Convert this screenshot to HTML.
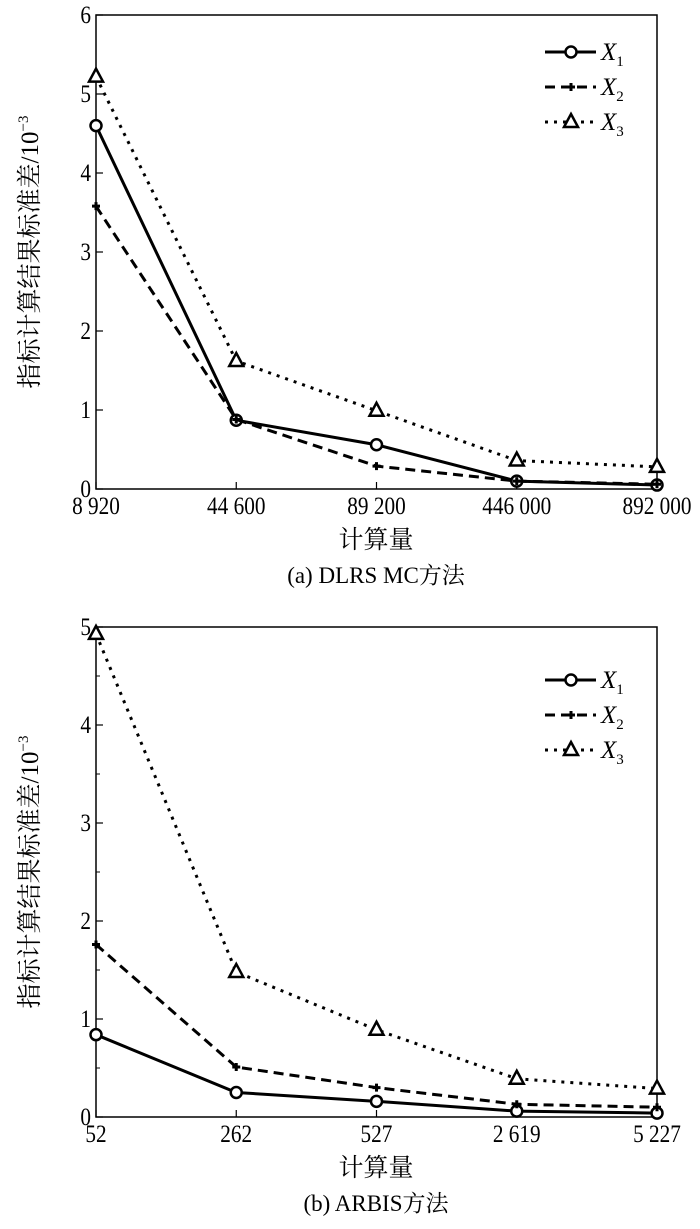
<!DOCTYPE html>
<html><head><meta charset="utf-8">
<style>
body{margin:0;background:#fff;width:700px;height:1229px;overflow:hidden}
svg{display:block}
text{font-family:"Liberation Serif","Noto Serif CJK SC",serif;fill:#000}
</style></head>
<body>
<svg id="svg" width="700" height="1229"></svg>
<script>
const categoriesA = ["8 920","44 600","89 200","446 000","892 000"];
const x1A = [4.6, 0.87, 0.56, 0.1, 0.05];
const x2A = [3.58, 0.88, 0.29, 0.1, 0.06];
const x3A = [5.22, 1.62, 0.99, 0.36, 0.28];
const yTicksA = [0,1,2,3,4,5,6];

const categoriesB = ["52","262","527","2 619","5 227"];
const x1B = [0.84, 0.25, 0.16, 0.06, 0.04];
const x2B = [1.76, 0.51, 0.30, 0.13, 0.10];
const x3B = [4.93, 1.48, 0.89, 0.39, 0.29];
const yTicksB = [0,1,2,3,4,5];
const minorTicksB = [0.5,1.5,2.5,3.5,4.5];

const NS = "http://www.w3.org/2000/svg";
const svg = document.getElementById('svg');
function el(tag, attrs, parent, txt){
  const e = document.createElementNS(NS, tag);
  for (const k in attrs) e.setAttribute(k, attrs[k]);
  if (txt !== undefined) e.textContent = txt;
  (parent||svg).appendChild(e);
  return e;
}

function drawChart(cfg){
  const g = el('g', {});
  
  
  const L=96, R=657, T=cfg.top, B=cfg.bottom;
  const n = cfg.cats.length;
  const xs = i => L + (R-L)*i/(n-1);
  const ys = v => B - (B-T)*v/cfg.ymax;
  const frame = el('rect', {x:L,y:T,width:R-L,height:B-T,fill:'none',stroke:'#000','stroke-width':1.5}, g);
  
  
  cfg.yticks.forEach(v=>{
    el('line',{x1:L,x2:L+7,y1:ys(v),y2:ys(v),stroke:'#000','stroke-width':1.2},g);
    const t = el('text',{x:L-5,y:ys(v)+8,'text-anchor':'end','font-size':25,transform:`translate(${L-5},0) scale(0.85,1) translate(${-(L-5)},0)`},g,String(v));
    
    
  });
  (cfg.minor||[]).forEach(v=>{
    el('line',{x1:L,x2:L+4,y1:ys(v),y2:ys(v),stroke:'#000','stroke-width':1},g);
  });
  cfg.cats.forEach((c,i)=>{
    el('line',{x1:xs(i),x2:xs(i),y1:B,y2:B-7,stroke:'#000','stroke-width':1.2},g);
    const t = el('text',{x:xs(i),y:B+25,'text-anchor':'middle','font-size':25,transform:`translate(${xs(i)},0) scale(0.85,1) translate(${-xs(i)},0)`},g,c);
    
    
  });
  const xt = el('text',{x:376,y:B+59,'text-anchor':'middle','font-size':25},g,'计算量');
  
  
  const cap = el('text',{x:376,y:B+94,'text-anchor':'middle','font-size':23},g,cfg.caption);
  
  
  const cy = (T+B)/2;
  const yt = el('text',{x:0,y:0,'text-anchor':'middle','font-size':25,transform:`translate(38,${cy}) rotate(-90)`},g);
  
  
  yt.appendChild(document.createTextNode('指标计算结果标准差/10'));
  el('tspan',{'font-size':15,dy:-10},yt,'−3');

  const series = [
    {d:cfg.s1, dash:'none', m:'circle', name:'series-x1'},
    {d:cfg.s2, dash:'10,6', m:'plus', name:'series-x2'},
    {d:cfg.s3, dash:'3,6', m:'tri', name:'series-x3'}
  ];
  function marker(type,x,y,parent){
    let m;
    if(type==='circle') m = el('circle',{cx:x,cy:y,r:5.5,fill:'#fff',stroke:'#000','stroke-width':2.5},parent);
    else if(type==='plus'){ m = el('path',{d:`M${x-4},${y}L${x+4},${y}M${x},${y-4}L${x},${y+4}`,stroke:'#000','stroke-width':3},parent); }
    else m = el('path',{d:`M${x},${y-8}L${x+7},${y+5}L${x-7},${y+5}Z`,fill:'#fff',stroke:'#000','stroke-width':2.5},parent);
    
    
  }
  series.forEach(s=>{
    const pts = s.d.map((v,i)=>xs(i)+','+ys(v)).join(' ');
    const pl = el('polyline',{points:pts,fill:'none',stroke:'#000','stroke-width':3,'stroke-dasharray':s.dash},g);
    
    
    s.d.forEach((v,i)=>marker(s.m,xs(i),ys(v),g));
  });
  const lg = el('g',{},g);
  
  
  series.forEach((s,k)=>{
    const y = cfg.legY + k*35;
    const ln = el('line',{x1:545,x2:596,y1:y,y2:y,stroke:'#000','stroke-width':3,'stroke-dasharray':s.dash},lg);
    
    
    marker(s.m,571,y,lg);
    const t = el('text',{x:601,y:y+8,'font-size':25,'font-style':'italic'},lg,'X');
    
    
    el('tspan',{'font-size':15,'font-style':'normal',dy:6},t,String(k+1));
  });
}

drawChart({name:'chart-a',top:15,bottom:489,ymax:6,cats:categoriesA,yticks:yTicksA,
  s1:x1A,s2:x2A,s3:x3A,legY:52,caption:'(a) DLRS MC方法'});
drawChart({name:'chart-b',top:627,bottom:1117,ymax:5,cats:categoriesB,yticks:yTicksB,minor:minorTicksB,
  s1:x1B,s2:x2B,s3:x3B,legY:680,caption:'(b) ARBIS方法'});
</script>
</body></html>
